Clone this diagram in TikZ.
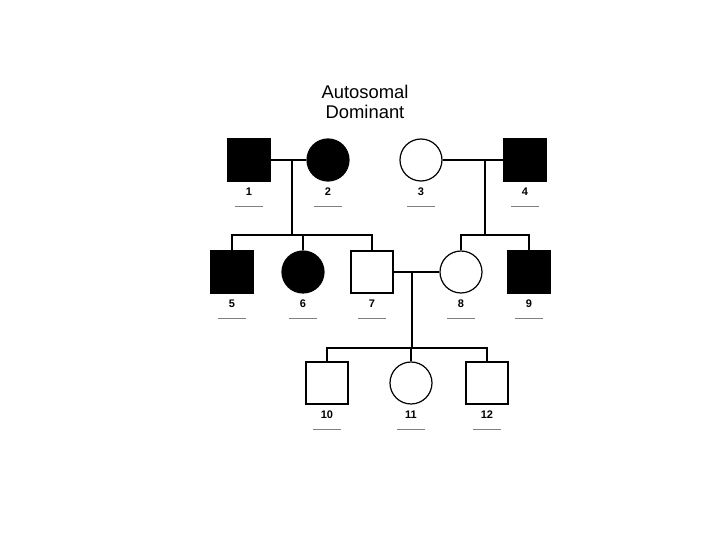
\documentclass[tikz,border=0pt]{standalone}
\usepackage{fontspec}
\setmainfont{Liberation Sans}
\usetikzlibrary{arrows.meta}

\begin{document}
\begin{tikzpicture}[x=0.5pt,y=-0.5pt,
  person/.style={draw=black,line width=0.6pt,inner sep=0pt,minimum size=21pt},
  male/.style={person,rectangle},
  female/.style={person,circle},
  affected/.style={fill=black},
  num/.style={font=\fontsize{5.5}{6}\selectfont\bfseries,inner sep=0pt},
  blank/.style={inner sep=0pt,minimum width=13.5pt,minimum height=0pt},
  rule/.style={draw=black!50,line width=0.5pt},
  line/.style={line width=0.6pt}]
\useasboundingbox (0,0) rectangle (720,540);
\node[align=center,font=\fontsize{9.2}{10}\selectfont] (title) at (365,102)
  {Autosomal\\Dominant};
% generation I
\node[male,affected] (p1) at (249,160) {};
\node[female,affected] (p2) at (328,160) {};
\node[female] (p3) at (421,160) {};
\node[male,affected] (p4) at (525,160) {};
% generation II
\node[male,affected] (p5) at (232,272) {};
\node[female,affected] (p6) at (303,272) {};
\node[male] (p7) at (372,272) {};
\node[female] (p8) at (461,272) {};
\node[male,affected] (p9) at (529,272) {};
% generation III
\node[male] (p10) at (327,383) {};
\node[female] (p11) at (411,383) {};
\node[male] (p12) at (487,383) {};
% numbers and blanks
\foreach \n in {1,...,12}{
  \node[num] (t\n) at ([yshift=-5pt]p\n.south) {\n};
  \node[blank] (u\n) at ([yshift=-12.5pt]p\n.south) {};
  \draw[rule] (u\n.west) -- (u\n.east);
}
% matings and descent lines
\coordinate (m12) at (292,160);
\coordinate (s12) at (292,235);
\coordinate (m34) at (485,160);
\coordinate (s34) at (485,235);
\coordinate (m78) at (412,272);
\coordinate (s78) at (412,348);
\draw[line] (p1) -- (p2);
\draw[line] (p3) -- (p4);
\draw[line] (p7) -- (p8);
\draw[line] (m12) -- (s12);
\draw[line] (m34) -- (s34);
\draw[line] (m78) -- (s78);
\draw[line] (p5.north) |- (s12) -| (p7.north);
\draw[line] (p6.north) -- (p6.north |- s12);
\draw[line] (p8.north) |- (s34) -| (p9.north);
\draw[line] (p10.north) |- (s78) -| (p12.north);
\draw[line] (p11.north) -- (p11.north |- s78);
\end{tikzpicture}
\end{document}
